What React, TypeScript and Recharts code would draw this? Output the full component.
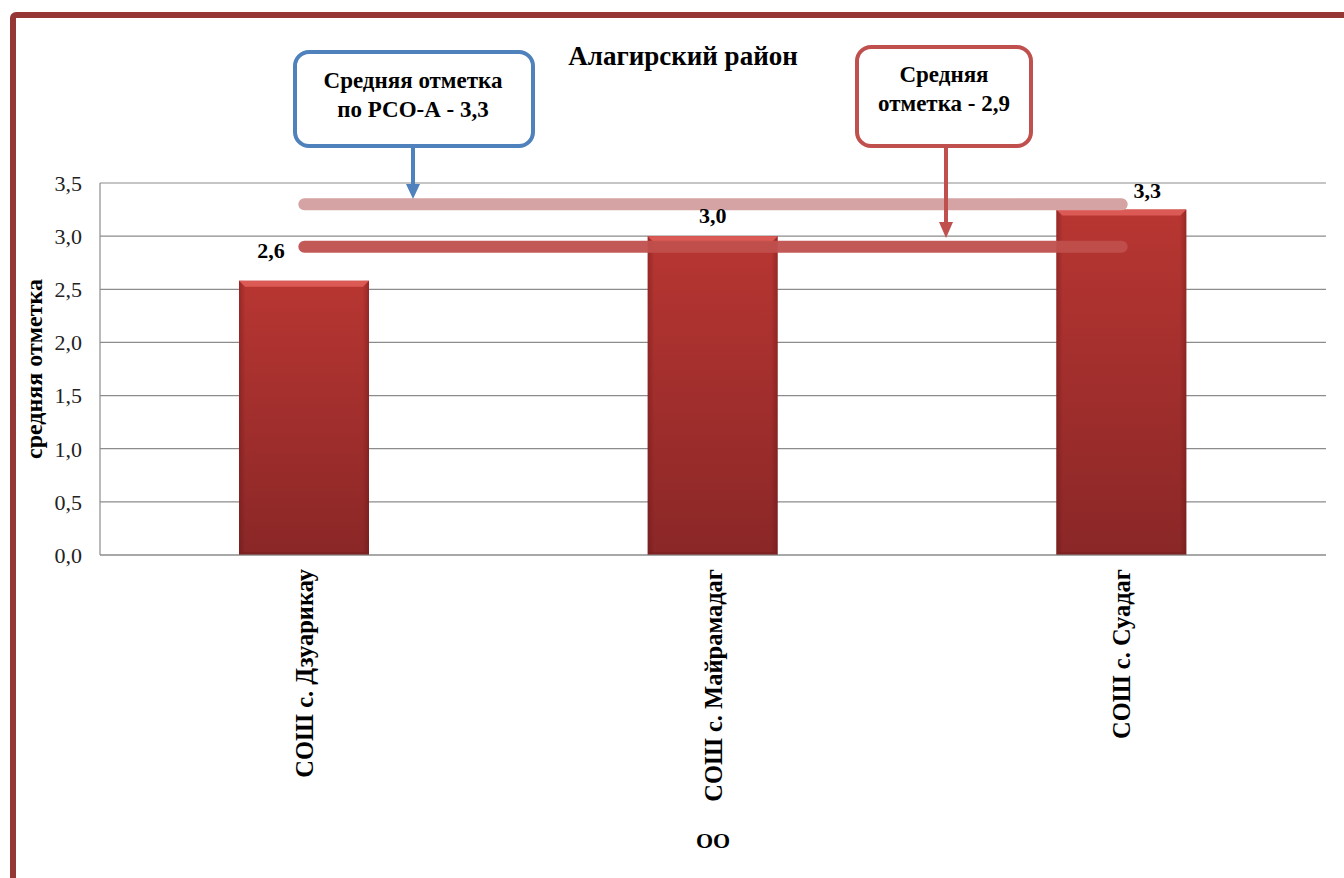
import React from 'react';
import { BarChart, Bar, XAxis, YAxis, CartesianGrid, ReferenceLine, LabelList } from 'recharts';

const CATEGORIES = ['СОШ с. Дзуарикау', 'СОШ с. Майрамадаг', 'СОШ с. Суадаг'];
const VALUES = [2.58, 3.0, 3.25];
const VALUE_LABELS = ['2,6', '3,0', '3,3'];
const Y_TICKS = [0, 0.5, 1.0, 1.5, 2.0, 2.5, 3.0, 3.5];
const REGION_AVG = 3.3; // Средняя отметка по РСО-А
const DISTRICT_AVG = 2.9; // Средняя отметка по району

const TITLE = 'Алагирский район';
const Y_TITLE = 'средняя отметка';
const X_TITLE = 'ОО';

const data = CATEGORIES.map((name, i) => ({ name, value: VALUES[i], label: VALUE_LABELS[i] }));

const FONT = "'Liberation Serif', 'Times New Roman', serif";
const W = 1344;
const H = 878;

const LABEL_DX = [-33, 0, 26];
const LABEL_DY = [-23, -13, -12];

const BarShape = (props: any) => {
  const { x, y, width, height } = props;
  if (!height || height <= 0) return null;
  const b = 6;
  return (
    <g>
      <rect x={x} y={y} width={width} height={height} fill="url(#barGrad)" />
      <rect x={x} y={y} width={width} height={height} fill="url(#barSide)" />
      <polygon
        points={`${x},${y} ${x + width},${y} ${x + width - b},${y + b} ${x + b},${y + b}`}
        fill="#dc5a55"
      />
      <polygon
        points={`${x},${y + height} ${x + width},${y + height} ${x + width - 3},${y + height - 3} ${x + 3},${y + height - 3}`}
        fill="#7a2020"
        opacity={0.6}
      />
    </g>
  );
};

const ValueLabel = (props: any) => {
  const { x, y, width, index } = props;
  const cx = x + width / 2 + (LABEL_DX[index] ?? 0);
  const by = y + (LABEL_DY[index] ?? -10);
  return (
    <text x={cx} y={by} textAnchor="middle" fontFamily={FONT} fontWeight="bold" fontSize={22} fill="#000">
      {VALUE_LABELS[index]}
    </text>
  );
};

const XTick = (props: any) => {
  const { x, y, payload } = props;
  return (
    <text
      x={x}
      y={y}
      transform={`rotate(-90, ${x}, ${y})`}
      textAnchor="end"
      dy="0.35em"
      fontFamily={FONT}
      fontWeight="bold"
      fontSize={24.5}
      fill="#000"
    >
      {payload.value}
    </text>
  );
};

export default function App() {
  return (
    <div style={{ position: 'absolute', left: 0, top: 0, width: W, height: H, background: '#fff', overflow: 'hidden' }}>
      <BarChart
        width={W}
        height={H}
        data={data}
        margin={{ top: 183, right: 18, bottom: 0, left: 0 }}
        barSize={130}
      >
        <defs>
          <linearGradient id="barGrad" x1="0" y1="0" x2="0" y2="1">
            <stop offset="0%" stopColor="#b83632" />
            <stop offset="100%" stopColor="#8a2727" />
          </linearGradient>
          <linearGradient id="barSide" x1="0" y1="0" x2="1" y2="0">
            <stop offset="0%" stopColor="#5a1010" stopOpacity={0.35} />
            <stop offset="5%" stopColor="#5a1010" stopOpacity={0} />
            <stop offset="95%" stopColor="#5a1010" stopOpacity={0} />
            <stop offset="100%" stopColor="#5a1010" stopOpacity={0.35} />
          </linearGradient>
        </defs>
        <CartesianGrid vertical={false} stroke="#8c8c8c" strokeWidth={1.2} />
        <XAxis
          dataKey="name"
          height={323}
          axisLine={{ stroke: '#8c8c8c', strokeWidth: 1.2 }}
          tickLine={false}
          tickSize={0}
          tickMargin={14}
          interval={0}
          tick={(p: any) => <XTick {...p} />}
          label={{ value: X_TITLE, position: 'insideBottom', offset: 30, fontFamily: FONT, fontWeight: 'bold', fontSize: 22, fill: '#000' }}
        />
        <YAxis
          width={100}
          domain={[0, 3.5]}
          ticks={Y_TICKS}
          interval={0}
          axisLine={{ stroke: '#8c8c8c', strokeWidth: 1.2 }}
          tickLine={false}
          tickSize={0}
          tickMargin={18}
          tickFormatter={(v: number) => v.toFixed(1).replace('.', ',')}
          tick={{ fontFamily: FONT, fontSize: 22, fill: '#222' }}
        />
        <Bar dataKey="value" isAnimationActive={false} shape={(p: any) => <BarShape {...p} />}>
          <LabelList dataKey="label" content={(p: any) => <ValueLabel {...p} />} />
        </Bar>
        <ReferenceLine
          segment={[{ x: CATEGORIES[0], y: REGION_AVG }, { x: CATEGORIES[2], y: REGION_AVG }]}
          stroke="#d5a3a3"
          strokeWidth={12}
          strokeLinecap="round"
        />
        <ReferenceLine
          segment={[{ x: CATEGORIES[0], y: DISTRICT_AVG }, { x: CATEGORIES[2], y: DISTRICT_AVG }]}
          stroke="#c0504d"
          strokeWidth={12}
          strokeLinecap="round"
          strokeOpacity={0.95}
        />
      </BarChart>
      <svg
        width={W}
        height={H}
        style={{ position: 'absolute', left: 0, top: 0, pointerEvents: 'none' }}
      >
        {/* frame */}
        <rect x={13} y={15} width={1500} height={1000} rx={3} fill="none" stroke="#953735" strokeWidth={6} />
        {/* title */}
        <text x={683} y={65} textAnchor="middle" fontFamily={FONT} fontWeight="bold" fontSize={27} fill="#000">
          {TITLE}
        </text>
        {/* y axis title */}
        <text
          x={42}
          y={369}
          transform="rotate(-90, 42, 369)"
          textAnchor="middle"
          fontFamily={FONT}
          fontWeight="bold"
          fontSize={24}
          fill="#000"
        >
          {Y_TITLE}
        </text>
        {/* blue callout */}
        <rect x={295} y={52} width={238} height={94} rx={14} fill="#fff" stroke="#4f81bd" strokeWidth={4} />
        <line x1={413} y1={148} x2={413} y2={186} stroke="#4f81bd" strokeWidth={4} />
        <polygon points="406,184 420,184 413,199" fill="#4f81bd" />
        <text textAnchor="middle" fontFamily={FONT} fontWeight="bold" fontSize={23} fill="#000">
          <tspan x={413} y={88}>Средняя отметка</tspan>
          <tspan x={413} y={117}>по РСО-А - 3,3</tspan>
        </text>
        {/* red callout */}
        <rect x={857} y={47} width={174} height={99} rx={14} fill="#fff" stroke="#c0504d" strokeWidth={4} />
        <line x1={946} y1={148} x2={946} y2={224} stroke="#c0504d" strokeWidth={4} />
        <polygon points="939,222 953,222 946,238" fill="#c0504d" />
        <text textAnchor="middle" fontFamily={FONT} fontWeight="bold" fontSize={23} fill="#000">
          <tspan x={944} y={82}>Средняя</tspan>
          <tspan x={944} y={111}>отметка - 2,9</tspan>
        </text>
      </svg>
    </div>
  );
}
